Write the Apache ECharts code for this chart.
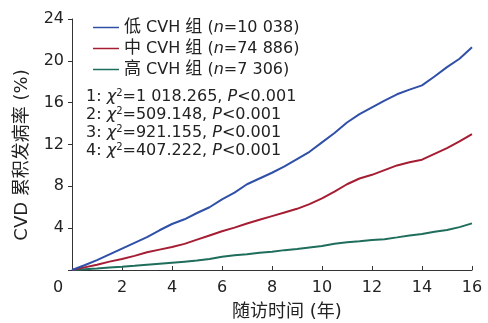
<!DOCTYPE html>
<html><head><meta charset="utf-8">
<script src="https://cdn.jsdelivr.net/npm/echarts@6/dist/echarts.min.js"></script>
<style>html,body{margin:0;padding:0;background:#fff}#c{width:488px;height:323px}</style>
</head><body><div id="c"></div>
<script>
const years = [0,0.5,1,1.5,2,2.5,3,3.5,4,4.5,5,5.5,6,6.5,7,7.5,8,8.5,9,9.5,10,10.5,11,11.5,12,12.5,13,13.5,14,14.5,15,15.5,16];
const lowCVH = [0,0.45,0.95,1.5,2.05,2.6,3.15,3.8,4.4,4.85,5.45,6.0,6.75,7.4,8.2,8.75,9.3,9.9,10.6,11.3,12.2,13.1,14.1,14.9,15.55,16.2,16.8,17.25,17.65,18.5,19.4,20.2,21.3];
const midCVH = [0,0.25,0.5,0.8,1.05,1.35,1.7,1.95,2.2,2.5,2.9,3.3,3.7,4.05,4.45,4.8,5.15,5.5,5.85,6.3,6.85,7.5,8.2,8.75,9.1,9.55,10.0,10.3,10.55,11.1,11.65,12.3,13.0];
const highCVH = [0,0.08,0.15,0.25,0.32,0.4,0.5,0.6,0.7,0.8,0.9,1.05,1.27,1.4,1.5,1.65,1.75,1.9,2.0,2.15,2.3,2.5,2.65,2.75,2.87,2.95,3.12,3.3,3.44,3.65,3.82,4.1,4.46];
const seriesNames = ['低 CVH 组', '中 CVH 组', '高 CVH 组'];
const groupN = ['10 038', '74 886', '7 306'];
const statsRows = [['1', '1 018.265', '0.001'], ['2', '509.148', '0.001'], ['3', '921.155', '0.001'], ['4', '407.222', '0.001']];
const xTicks = [0,2,4,6,8,10,12,14,16];
const yTicks = [0,4,8,12,16,20,24];

const FONT = 'DejaVu Sans, Noto Sans CJK SC, sans-serif';
const colors = ['#3050a8', '#a51d33', '#1f6d5c'];
const chart = echarts.init(document.getElementById('c'), null, {renderer: 'canvas'});
const mk = arr => years.map((y, i) => [y, arr[i]]);
const allSeries = [lowCVH, midCVH, highCVH];

const statsText = statsRows.map(r => `${r[0]}: {i|χ}{sup|2}=${r[1]}, {i|P}<${r[2]}`).join('\n');

chart.setOption({
  animation: false,
  textStyle: {fontFamily: FONT},
  grid: {left: 72, right: 16, top: 19, bottom: 53, containLabel: false},
  legend: {
    orient: 'vertical', left: 88, top: 14, itemGap: 4,
    itemWidth: 26, itemHeight: 1.5, icon: 'rect',
    textStyle: {fontFamily: FONT, fontSize: 16, color: '#222',
      rich: {i: {fontStyle: 'italic', fontFamily: FONT, fontSize: 16, color: '#222'},
             c: {fontFamily: FONT, fontSize: 17, color: '#222'}}},
    formatter: name => {
      const idx = seriesNames.indexOf(name);
      const parts = name.split(' ');
      return `{c|${parts[0]}} ${parts[1]} {c|${parts[2]}} ({i|n}=${groupN[idx]})`;
    },
    data: seriesNames
  },
  xAxis: {
    type: 'value', min: 0, max: 16, interval: 2,
    axisLine: {show: true, lineStyle: {color: '#333', width: 1}},
    axisTick: {show: true, inside: true, length: 4, lineStyle: {color: '#333'}},
    splitLine: {show: false},
    axisLabel: {
      margin: 10, fontSize: 16, color: '#222', fontFamily: FONT,
      formatter: v => v === 0 ? '{z|0}' : String(v),
      rich: {z: {fontSize: 16, color: '#222', fontFamily: FONT, padding: [0, 28, 0, 0]}}
    }
  },
  yAxis: {
    type: 'value', min: 0, max: 24, interval: 4,
    axisLine: {show: true, lineStyle: {color: '#333', width: 1}},
    axisTick: {show: true, inside: false, length: 4, lineStyle: {color: '#333'}},
    splitLine: {show: false},
    axisLabel: {margin: 8, fontSize: 16, color: '#222', fontFamily: FONT,
      formatter: v => v === 0 ? '' : String(v)}
  },
  series: allSeries.map((arr, i) => ({
    name: seriesNames[i], type: 'line', data: mk(arr), showSymbol: false, symbol: 'none',
    lineStyle: {color: colors[i], width: 2}, itemStyle: {color: colors[i]}, z: 3 - i
  })),
  graphic: [
    {type: 'text', left: 86, top: 88, style: {
      text: statsText, fontFamily: FONT, fontSize: 16, lineHeight: 18, fill: '#222',
      rich: {
        i: {fontStyle: 'italic', fontFamily: FONT, fontSize: 16, fill: '#222', lineHeight: 18},
        sup: {fontSize: 10, fontFamily: FONT, fill: '#222', verticalAlign: 'top', lineHeight: 18, padding: [0, 0, 8, 0]}
      }
    }},
    {type: 'text', x: 287, y: 312, style: {text: '随访时间 (年)', fontFamily: FONT, fontSize: 18, fill: '#222', align: 'center', verticalAlign: 'middle'}},
    {type: 'text', x: 22, y: 155, rotation: Math.PI / 2, style: {text: 'CVD 累积发病率 (%)', fontFamily: FONT, fontSize: 18, fill: '#222', align: 'center', verticalAlign: 'middle'}}
  ]
});
</script></body></html>
